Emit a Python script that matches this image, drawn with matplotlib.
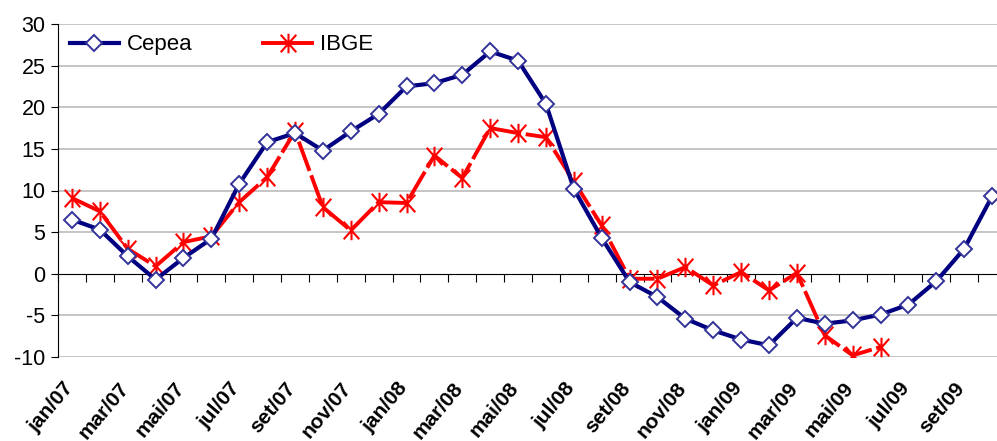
import matplotlib.pyplot as plt
from matplotlib.lines import Line2D
from matplotlib.path import Path

plt.rcParams["font.family"] = ["Liberation Sans", "DejaVu Sans"]
plt.rcParams["axes.unicode_minus"] = False

months = ["jan/07", "fev/07", "mar/07", "abr/07", "mai/07", "jun/07", "jul/07", "ago/07",
          "set/07", "out/07", "nov/07", "dez/07", "jan/08", "fev/08", "mar/08", "abr/08",
          "mai/08", "jun/08", "jul/08", "ago/08", "set/08", "out/08", "nov/08", "dez/08",
          "jan/09", "fev/09", "mar/09", "abr/09", "mai/09", "jun/09", "jul/09", "ago/09",
          "set/09", "out/09"]

cepea = [6.5, 5.3, 2.1, -0.7, 1.9, 4.2, 10.8, 15.8, 16.9, 14.8, 17.1, 19.2,
         22.5, 22.9, 23.9, 26.7, 25.6, 20.4, 10.2, 4.3, -1.0, -2.8, -5.4, -6.8,
         -7.9, -8.6, -5.3, -6.0, -5.6, -4.9, -3.7, -0.9, 3.0, 9.3]

ibge = [9.1, 7.5, 3.0, 0.9, 3.8, 4.5, 8.6, 11.6, 17.1, 8.0, 5.2, 8.6,
        8.5, 14.2, 11.5, 17.5, 16.9, 16.4, 11.1, 5.8, -0.6, -0.6, 0.8, -1.4,
        0.2, -2.0, 0.1, -7.4, -9.8, -8.8]

# excel-like asterisk: vertical bar plus an X
star = Path([(0, -1), (0, 1), (-0.8, -0.9), (0.8, 0.9), (-0.8, 0.9), (0.8, -0.9)],
            [Path.MOVETO, Path.LINETO] * 3)

cepea_style = dict(color="#000080", lw=3, marker="D", markersize=8.5,
                   markerfacecolor="white", markeredgecolor="#333399", markeredgewidth=1.4)
ibge_style = dict(color="#FF0000", lw=2.8, dashes=(8, 1.2), marker=star, markersize=14,
                  markeredgewidth=1.5, markeredgecolor="#FF0000")

fig = plt.figure(figsize=(9.97, 4.41), dpi=100)
ax = fig.add_axes([58 / 997, 1 - 357 / 441, (1006 - 58) / 997, (357 - 24) / 441])

ax.plot(range(len(ibge)), ibge, zorder=3, **ibge_style)
ax.plot(range(len(cepea)), cepea, zorder=4, **cepea_style)

ax.set_xlim(-0.5, len(months) - 0.5)
ax.set_ylim(-10, 30)
ax.set_yticks(range(-10, 31, 5))
ax.tick_params(axis="y", labelsize=15.5, length=5, color="black", pad=4)
for y in range(-10, 31, 5):
    if y != 0:
        ax.axhline(y, color="#c0c0c0", lw=1.3, zorder=0)

for s in ["top", "right"]:
    ax.spines[s].set_visible(False)
ax.spines["left"].set_color("black")
ax.spines["bottom"].set_position(("data", 0))
ax.spines["bottom"].set_color("black")
ax.set_xticks([k - 0.5 for k in range(len(months) + 1)])
ax.set_xticklabels([])
ax.tick_params(axis="x", direction="out", length=6, color="black")

for k in range(0, len(months), 2):
    ax.text(k - 0.35, -12.6, months[k], rotation=50, ha="right", va="top",
            rotation_mode="anchor", fontsize=15, fontweight="bold")

h_c = Line2D([], [], **cepea_style)
h_i = Line2D([], [], **dict(ibge_style, dashes=(None, None)))
ax.legend([h_c, h_i], ["Cepea", "IBGE"], loc="center left", ncol=2, frameon=False,
          fontsize=16, handlelength=2.2, columnspacing=3.2, handletextpad=0.35,
          borderpad=0, borderaxespad=0, bbox_to_anchor=(0.0127, 0.937))

fig.savefig("out.png", dpi=100)
